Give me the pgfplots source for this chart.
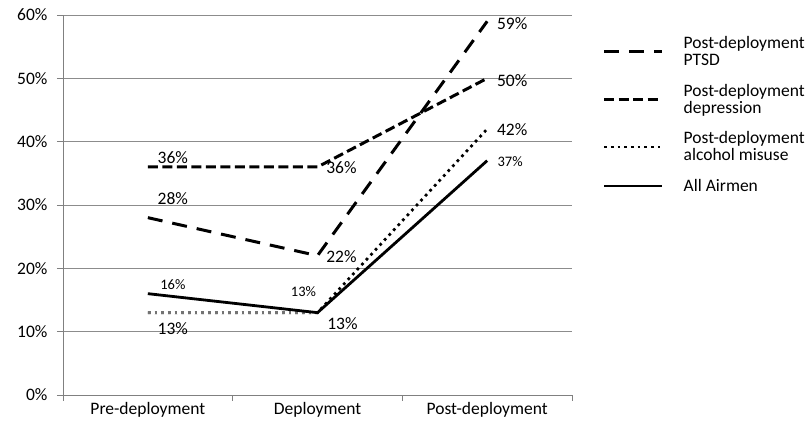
\documentclass[border=0pt]{standalone}
\usepackage{pgfplots}
\usepackage{pgfplotstable}
\pgfplotsset{compat=1.18}
\usepackage{fontspec}
\setmainfont{Carlito}

% x = period (0 pre, 1 during, 2 post); dx/dy = label offset in pt
\pgfplotstableread{
x y dx dy
0 28 25 19
1 22 24 -1
2 59 25 -2
}\ptsd
\pgfplotstableread{
x y dx dy
0 36 25 9
1 36 24 -1
2 50 25 -2
}\depression
\pgfplotstableread{
x y dx dy
0 13 25 -16
1 13 25 -11
2 42 25 -1
}\alcohol
\pgfplotstableread{
x y dx dy
0 16 25 9
1 13 -14 21
2 37 23 -1
}\airmen

\pgfplotsset{
  valuelabels/.style={
    nodes near coords={\pgfmathprintnumber{\pgfplotspointmeta}\%},
    point meta=explicit,
    visualization depends on={\thisrow{dx} \as \dx},
    visualization depends on={\thisrow{dy} \as \dy},
    every node near coord/.append style={anchor=center, xshift=\dx pt,
      yshift=\dy pt, solid, text=black, font=#1},
  },
}

\begin{document}
\begin{tikzpicture}
\useasboundingbox (-63pt,-43pt) rectangle (744pt,395pt);
\begin{axis}[
  at={(0,0)}, anchor=south west,
  scale only axis, width=509pt, height=380pt,
  xmin=-0.5, xmax=2.5, ymin=0, ymax=60,
  axis x line=bottom, axis y line=left,
  axis line style={draw=black!50, line width=0.8pt, -},
  clip=false, no marks,
  /pgf/number format/assume math mode=true,
  font=\fontsize{17.5}{21}\selectfont,
  xtick={-0.5,0.5,1.5,2.5}, xticklabels={},
  extra x ticks={0,1,2},
  extra x tick labels={Pre-deployment,Deployment,Post-deployment},
  extra x tick style={grid=none, major tick length=0pt},
  ytick={0,10,...,60},
  yticklabel={\pgfmathprintnumber{\tick}\%},
  ymajorgrids,
  major grid style={draw=black!45, line width=0.8pt},
  tick align=outside, major tick length=6pt,
  tick style={draw=black!50, line width=0.8pt},
  xticklabel style={yshift=-4pt},
  yticklabel style={xshift=-6pt},
  legend image code/.code={\draw[#1] (0pt,0pt) -- (58pt,0pt);},
  legend style={draw=none, fill=none, at={(rel axis cs:1.054,0.955)},
    anchor=north west, row sep=13pt,
    /tikz/every odd column/.append style={column sep=18pt},
    cells={anchor=west, align=left},
    font=\fontsize{17.5}{17}\selectfont},
]
\addplot[black, line width=3pt, dash pattern=on 15pt off 10pt,
  valuelabels=\fontsize{17.5}{20}\selectfont]
  table[x=x, y=y, meta=y] {\ptsd};
\addlegendentry{Post-deployment\\PTSD}
\addplot[black, line width=3pt, dash pattern=on 10pt off 4.5pt,
  valuelabels=\fontsize{17.5}{20}\selectfont]
  table[x=x, y=y, meta=y] {\depression};
\addlegendentry{Post-deployment\\depression}
\addplot[black, line width=2.7pt, dash pattern=on 2.7pt off 4pt,
  valuelabels=\fontsize{17.5}{20}\selectfont]
  table[x=x, y=y, meta=y] {\alcohol};
\addlegendentry{Post-deployment\\alcohol misuse}
% the pre-deployment stretch of the alcohol series is drawn in grey
\addplot[white, line width=3.2pt, restrict x to domain=0:1, forget plot]
  table[x=x, y=y] {\alcohol};
\addplot[black!55, line width=2.7pt, dash pattern=on 2.7pt off 4pt,
  restrict x to domain=0:1, forget plot]
  table[x=x, y=y] {\alcohol};
\addplot[black, line width=2.8pt,
  valuelabels=\fontsize{14.5}{17}\selectfont]
  table[x=x, y=y, meta=y] {\airmen};
\addlegendentry{All Airmen}
\end{axis}
\end{tikzpicture}
\end{document}
